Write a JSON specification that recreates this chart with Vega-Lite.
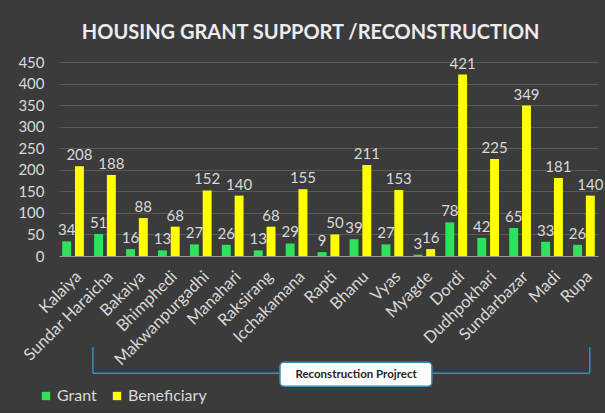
{
  "$schema": "https://vega.github.io/schema/vega-lite/v6.json",
  "width": 539,
  "height": 194,
  "autosize": {"type": "none"},
  "padding": {"left": 59, "top": 62, "right": 7, "bottom": 157},
  "background": "#3b3b3b",
  "title": {
    "text": "HOUSING GRANT SUPPORT /RECONSTRUCTION",
    "font": "Lato",
    "fontSize": 20,
    "fontWeight": "bold",
    "color": "#ececec",
    "anchor": "middle",
    "frame": "bounds",
    "offset": 12
  },
  "config": {"view": {"stroke": null}, "font": "Lato"},
  "datasets": {
    "housing": [
      {"Municipality": "Kalaiya", "Series": "Grant", "Value": 34},
      {"Municipality": "Kalaiya", "Series": "Beneficiary", "Value": 208},
      {"Municipality": "Sundar Haraicha", "Series": "Grant", "Value": 51},
      {"Municipality": "Sundar Haraicha", "Series": "Beneficiary", "Value": 188},
      {"Municipality": "Bakaiya", "Series": "Grant", "Value": 16},
      {"Municipality": "Bakaiya", "Series": "Beneficiary", "Value": 88},
      {"Municipality": "Bhimphedi", "Series": "Grant", "Value": 13},
      {"Municipality": "Bhimphedi", "Series": "Beneficiary", "Value": 68},
      {"Municipality": "Makwanpurgadhi", "Series": "Grant", "Value": 27},
      {"Municipality": "Makwanpurgadhi", "Series": "Beneficiary", "Value": 152},
      {"Municipality": "Manahari", "Series": "Grant", "Value": 26},
      {"Municipality": "Manahari", "Series": "Beneficiary", "Value": 140},
      {"Municipality": "Raksirang", "Series": "Grant", "Value": 13},
      {"Municipality": "Raksirang", "Series": "Beneficiary", "Value": 68},
      {"Municipality": "Icchakamana", "Series": "Grant", "Value": 29},
      {"Municipality": "Icchakamana", "Series": "Beneficiary", "Value": 155},
      {"Municipality": "Rapti", "Series": "Grant", "Value": 9},
      {"Municipality": "Rapti", "Series": "Beneficiary", "Value": 50},
      {"Municipality": "Bhanu", "Series": "Grant", "Value": 39},
      {"Municipality": "Bhanu", "Series": "Beneficiary", "Value": 211},
      {"Municipality": "Vyas", "Series": "Grant", "Value": 27},
      {"Municipality": "Vyas", "Series": "Beneficiary", "Value": 153},
      {"Municipality": "Myagde", "Series": "Grant", "Value": 3},
      {"Municipality": "Myagde", "Series": "Beneficiary", "Value": 16},
      {"Municipality": "Dordi", "Series": "Grant", "Value": 78},
      {"Municipality": "Dordi", "Series": "Beneficiary", "Value": 421},
      {"Municipality": "Dudhpokhari", "Series": "Grant", "Value": 42},
      {"Municipality": "Dudhpokhari", "Series": "Beneficiary", "Value": 225},
      {"Municipality": "Sundarbazar", "Series": "Grant", "Value": 65},
      {"Municipality": "Sundarbazar", "Series": "Beneficiary", "Value": 349},
      {"Municipality": "Madi", "Series": "Grant", "Value": 33},
      {"Municipality": "Madi", "Series": "Beneficiary", "Value": 181},
      {"Municipality": "Rupa", "Series": "Grant", "Value": 26},
      {"Municipality": "Rupa", "Series": "Beneficiary", "Value": 140}
    ]
  },
  "layer": [
    {
      "data": {"name": "housing"},
      "encoding": {
        "x": {
          "field": "Municipality",
          "type": "nominal",
          "sort": null,
          "scale": {"paddingInner": 0.32, "paddingOuter": 0.1},
          "axis": {
            "title": null,
            "labelAngle": -45,
            "labelFont": "Lato",
            "labelFontSize": 16.5,
            "labelColor": "#d9d9d9",
            "ticks": false,
            "domainColor": "#9a9a9a",
            "domainWidth": 1.2,
            "labelPadding": 12,
            "grid": false
          }
        },
        "xOffset": {
          "field": "Series",
          "type": "nominal",
          "sort": ["Grant", "Beneficiary"],
          "scale": {"paddingInner": 0.3}
        },
        "y": {
          "field": "Value",
          "type": "quantitative",
          "scale": {"domain": [0, 450], "nice": false},
          "axis": {
            "title": null,
            "values": [0, 50, 100, 150, 200, 250, 300, 350, 400, 450],
            "labelOverlap": false,
            "labelFont": "Lato",
            "labelFontSize": 15,
            "labelColor": "#d9d9d9",
            "labelPadding": 15,
            "ticks": false,
            "domain": false,
            "gridColor": "#5a5a5a",
            "gridWidth": 1
          }
        }
      },
      "layer": [
        {
          "mark": {"type": "bar"},
          "encoding": {
            "color": {
              "field": "Series",
              "type": "nominal",
              "scale": {"domain": ["Grant", "Beneficiary"], "range": ["#2ee35a", "#ffff00"]},
              "legend": {
                "title": null,
                "orient": "none",
                "direction": "horizontal",
                "legendX": -21,
                "legendY": 326,
                "symbolType": "square",
                "symbolSize": 70,
                "symbolStrokeWidth": 0,
                "labelFont": "Lato",
                "labelFontSize": 16,
                "labelColor": "#d9d9d9",
                "labelOffset": 3,
                "columnPadding": 12
              }
            }
          }
        },
        {
          "mark": {"type": "text", "baseline": "bottom", "dy": -3, "fontSize": 15, "font": "Lato", "color": "#d9d9d9"},
          "encoding": {"text": {"field": "Value", "type": "quantitative"}}
        }
      ]
    },
    {
      "data": {"values": [{"label": "Reconstruction Projrect"}]},
      "layer": [
        {
          "mark": {"type": "rule", "color": "#3a8fb7", "strokeWidth": 1.5},
          "encoding": {
            "x": {"datum": 1.07, "type": "quantitative", "scale": {"domain": [0, 17], "nice": false, "zero": false}, "axis": null},
            "y": {"datum": -211.8, "type": "quantitative", "scale": {"domain": [0, 450], "nice": false}, "axis": null},
            "y2": {"datum": -272.1}
          }
        },
        {
          "mark": {"type": "rule", "color": "#3a8fb7", "strokeWidth": 1.5},
          "encoding": {
            "x": {"datum": 16.74, "type": "quantitative", "scale": {"domain": [0, 17], "nice": false, "zero": false}, "axis": null},
            "y": {"datum": -211.8, "type": "quantitative", "scale": {"domain": [0, 450], "nice": false}, "axis": null},
            "y2": {"datum": -272.1}
          }
        },
        {
          "mark": {"type": "rule", "color": "#3a8fb7", "strokeWidth": 1.5},
          "encoding": {
            "x": {"datum": 1.07, "type": "quantitative", "scale": {"domain": [0, 17], "nice": false, "zero": false}, "axis": null},
            "x2": {"datum": 16.74},
            "y": {"datum": -272.1, "type": "quantitative", "scale": {"domain": [0, 450], "nice": false}, "axis": null}
          }
        },
        {
          "mark": {"type": "rect", "fill": "#ffffff", "stroke": "#3a8fb7", "strokeWidth": 1.5, "cornerRadius": 4},
          "encoding": {
            "x": {"datum": 6.97, "type": "quantitative", "scale": {"domain": [0, 17], "nice": false, "zero": false}, "axis": null},
            "x2": {"datum": 11.76},
            "y": {"datum": -246.6, "type": "quantitative", "scale": {"domain": [0, 450], "nice": false}, "axis": null},
            "y2": {"datum": -302.2}
          }
        },
        {
          "mark": {"type": "text", "font": "Lato", "fontWeight": "bold", "fontSize": 11.5, "color": "#262626"},
          "encoding": {
            "x": {"datum": 9.37, "type": "quantitative", "scale": {"domain": [0, 17], "nice": false, "zero": false}, "axis": null},
            "y": {"datum": -275.6, "type": "quantitative", "scale": {"domain": [0, 450], "nice": false}, "axis": null},
            "text": {"field": "label", "type": "nominal"}
          }
        }
      ]
    }
  ],
  "resolve": {"scale": {"x": "independent", "y": "independent"}}
}
